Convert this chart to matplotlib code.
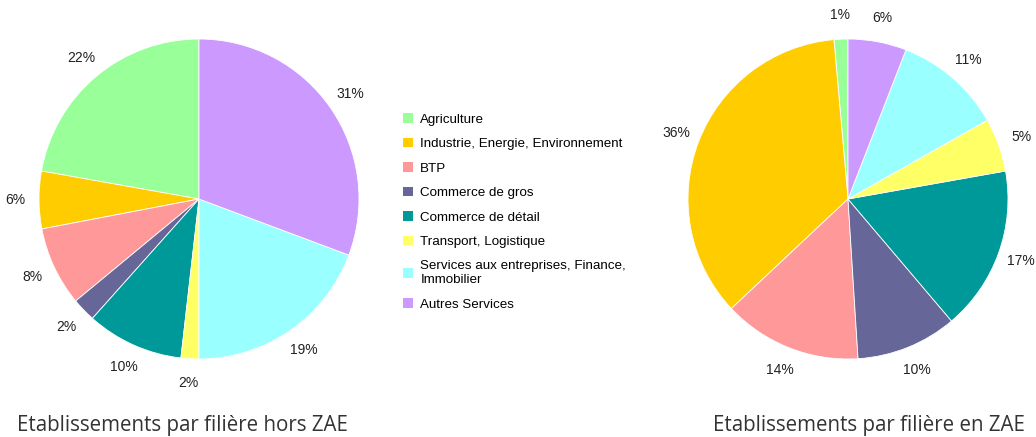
import matplotlib.pyplot as plt
from matplotlib.patches import Patch

plt.switch_backend("Agg")

categories = [
    "Agriculture",
    "Industrie, Energie, Environnement",
    "BTP",
    "Commerce de gros",
    "Commerce de détail",
    "Transport, Logistique",
    "Services aux entreprises, Finance,\nImmobilier",
    "Autres Services",
]
hors_zae = [22.2, 5.8, 8.0, 2.4, 9.8, 1.8, 19.3, 30.7]
en_zae = [1.4, 35.6, 14.0, 10.2, 16.6, 5.4, 10.9, 5.9]
colors = ["#99ff99", "#ffcc00", "#ff9999", "#666699", "#009999", "#ffff66", "#99ffff", "#cc99ff"]

title_left = "Etablissements par filière hors ZAE"
title_right = "Etablissements par filière en ZAE"

W, H = 1036, 437
fig = plt.figure(figsize=(W / 100, H / 100), dpi=100)


def draw_pie(cx, cy, values):
    r = 160
    half = r * 1.25
    ax = fig.add_axes([(cx - half) / W, (H - cy - half) / H, 2 * half / W, 2 * half / H])
    ax.pie(
        values,
        colors=colors,
        startangle=90,
        counterclock=True,
        autopct="%.0f%%",
        pctdistance=1.15,
        wedgeprops={"edgecolor": "white", "linewidth": 0.6},
        textprops={"fontsize": 10, "family": "Liberation Sans", "color": "#222222"},
    )
    ax.set_xlim(-1.25, 1.25)
    ax.set_ylim(-1.25, 1.25)
    ax.set_aspect("equal")
    ax.axis("off")
    return ax


draw_pie(199, 199, hors_zae)
draw_pie(848, 199, en_zae)

handles = [Patch(facecolor=c, edgecolor="none") for c in colors]
fig.legend(
    handles,
    categories,
    loc="upper left",
    bbox_to_anchor=(391 / W, 1 - 101 / H),
    frameon=False,
    prop={"family": "Liberation Sans", "size": 9.6},
    handlelength=0.75,
    handleheight=0.75,
    handletextpad=0.55,
    labelspacing=0.9,
)

fig.text(182 / W, 1 - 426 / H, title_left, ha="center", va="center",
         fontsize=14.8, family="Open Sans", color="#333333")
fig.text(869 / W, 1 - 426 / H, title_right, ha="center", va="center",
         fontsize=14.8, family="Open Sans", color="#333333")

fig.savefig("out.png", dpi=100)
plt.close(fig)
